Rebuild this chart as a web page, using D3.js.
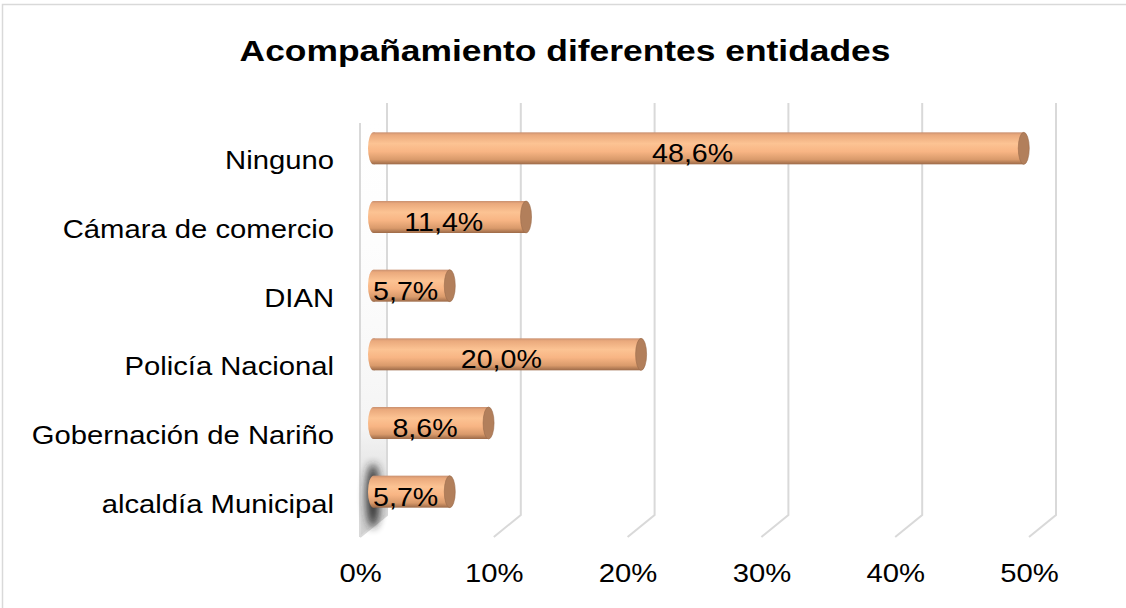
<!DOCTYPE html>
<html>
<head>
  <meta charset="utf-8">
  <script src="https://d3js.org/d3.v7.min.js"></script>
  <style>
    body { margin: 0; background: #fff; }
    text { font-family: Arial, "Liberation Sans", sans-serif; fill: #000; }
  </style>
</head>
<body>
  <svg id="chart"></svg>
  <script>
    var categories = ['Ninguno', 'Cámara de comercio', 'DIAN', 'Policía Nacional', 'Gobernación de Nariño', 'alcaldía Municipal'];
    var values = [48.6, 11.4, 5.7, 20.0, 8.6, 5.7];
    var tickValues = [0, 10, 20, 30, 40, 50];
    var title = 'Acompañamiento diferentes entidades';

    var svgWidth = 1126, svgHeight = 608;
    var stretch = 1.17;          // text in the picture is a bit wide
    var depth = { dx: 27, dy: -22 };  // back plane offset from the front plane

    var svg = d3.select('#chart')
      .attr('width', svgWidth)
      .attr('height', svgHeight);

    var defs = svg.append('defs');

    var barGrad = defs.append('linearGradient')
      .attr('id', 'barGrad').attr('x1', 0).attr('y1', 0).attr('x2', 0).attr('y2', 1);
    [[0, '#c99070'], [0.08, '#eaa97c'], [0.35, '#fcc393'], [0.6, '#f8b584'], [0.85, '#d99a6b'], [1, '#9c6a48']]
      .forEach(function(s) { barGrad.append('stop').attr('offset', s[0]).attr('stop-color', s[1]); });

    var wallGrad = defs.append('linearGradient')
      .attr('id', 'wallGrad').attr('x1', 0).attr('y1', 0).attr('x2', 0).attr('y2', 1);
    [[0, '#ffffff', 0], [0.75, '#f4f4f4', 1], [1, '#cfcfcf', 1]]
      .forEach(function(s) { wallGrad.append('stop').attr('offset', s[0]).attr('stop-color', s[1]).attr('stop-opacity', s[2]); });

    defs.append('filter').attr('id', 'blur')
      .attr('x', '-100%').attr('y', '-100%').attr('width', '300%').attr('height', '300%')
      .append('feGaussianBlur').attr('stdDeviation', 4);

    // chart border
    svg.append('rect')
      .attr('x', 2.5).attr('y', 4.5)
      .attr('width', svgWidth + 10).attr('height', svgHeight + 10)
      .attr('fill', 'none').attr('stroke', '#d9d9d9').attr('stroke-width', 1.5);

    svg.append('text')
      .attr('transform', 'translate(565,61) scale(1.18,1)')
      .attr('text-anchor', 'middle')
      .style('font-size', '30px').style('font-weight', 'bold')
      .text(title);

    var x = d3.scaleLinear().domain([0, 50]).range([360, 1029]);
    var y = d3.scaleBand().domain(categories)
      .range([125, 537]).paddingInner(0.534).paddingOuter(0.267);

    var plotTop = 125, plotBottom = 537;

    // left wall
    var wall = svg.append('g');
    wall.append('path')
      .attr('d', 'M' + x(0) + ',' + plotTop + 'L' + (x(0) + depth.dx) + ',' + (plotTop + depth.dy) +
                 'L' + (x(0) + depth.dx) + ',' + (plotBottom + depth.dy) + 'L' + x(0) + ',' + plotBottom + 'Z')
      .attr('fill', 'url(#wallGrad)');
    wall.append('line')
      .attr('x1', x(0)).attr('x2', x(0)).attr('y1', plotTop - 2).attr('y2', plotBottom)
      .attr('stroke', '#d9d9d9').attr('stroke-width', 2);

    // gridlines on the back plane, running down to the front edge of the floor
    svg.append('g').selectAll('path')
      .data(tickValues)
      .enter().append('path')
      .attr('d', function(d) {
        var bx = x(d) + depth.dx;
        return 'M' + bx + ',' + (plotTop + depth.dy) + 'L' + bx + ',' + (plotBottom + depth.dy) + 'L' + x(d) + ',' + plotBottom;
      })
      .attr('fill', 'none').attr('stroke', '#d9d9d9').attr('stroke-width', 2);

    // dark smudge at the foot of the wall
    svg.append('ellipse')
      .attr('cx', 373).attr('cy', y(categories[5]) + y.bandwidth() / 2 - 7)
      .attr('rx', 7).attr('ry', 32)
      .attr('fill', '#222').attr('opacity', 0.9).attr('filter', 'url(#blur)');

    // cylinders, drawn at mid depth
    var mx = depth.dx / 2, my = depth.dy / 2;
    var bh = y.bandwidth();
    var rx = 5.5;

    var bars = svg.append('g').selectAll('g')
      .data(values)
      .enter().append('g')
      .attr('transform', function(d, i) { return 'translate(' + mx + ',' + (y(categories[i]) + my) + ')'; });

    bars.append('ellipse')
      .attr('cx', x(0)).attr('cy', bh / 2).attr('rx', rx).attr('ry', bh / 2)
      .attr('fill', 'url(#barGrad)');
    bars.append('rect')
      .attr('x', x(0)).attr('y', 0)
      .attr('width', function(d) { return x(d) - x(0); })
      .attr('height', bh)
      .attr('fill', 'url(#barGrad)');
    bars.append('ellipse')
      .attr('cx', function(d) { return x(d); }).attr('cy', bh / 2)
      .attr('rx', rx).attr('ry', bh / 2)
      .attr('fill', '#b27f5b').attr('stroke', '#9a6b4b').attr('stroke-width', 0.6);

    bars.append('text')
      .attr('transform', function(d) { return 'translate(' + ((x(0) + x(d)) / 2 - 6) + ',' + (bh / 2 + 14) + ') scale(1.1,1)'; })
      .attr('text-anchor', 'middle')
      .style('font-size', '26px')
      .text(function(d) { return d3.format('.1f')(d).replace('.', ',') + '%'; });

    // category axis
    var yAxis = svg.append('g')
      .attr('transform', 'translate(334,0)')
      .call(d3.axisLeft(y).tickSize(0).tickPadding(0));
    yAxis.select('.domain').remove();
    yAxis.selectAll('text')
      .attr('x', null).attr('dy', null).attr('y', 10)
      .attr('transform', 'scale(' + stretch + ',1)')
      .style('font-size', '25px').style('font-family', 'Arial, "Liberation Sans", sans-serif').attr('fill', '#000');

    // value axis
    var xAxis = svg.append('g')
      .attr('transform', 'translate(0,' + (plotBottom + 45) + ')')
      .call(d3.axisBottom(x).tickValues(tickValues).tickSize(0).tickPadding(0)
        .tickFormat(function(d) { return d + '%'; }));
    xAxis.select('.domain').remove();
    xAxis.selectAll('text')
      .attr('y', 0).attr('dy', null)
      .attr('transform', 'scale(' + stretch + ',1)')
      .style('font-size', '25px').style('font-family', 'Arial, "Liberation Sans", sans-serif').attr('fill', '#000');
  </script>
</body>
</html>
